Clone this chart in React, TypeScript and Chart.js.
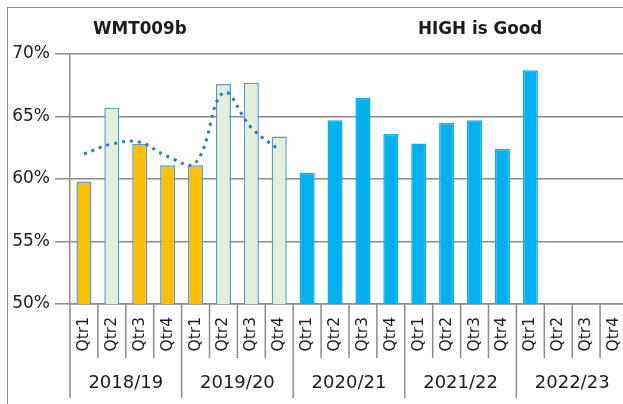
import React, { useEffect, useRef } from "react";
import { Chart, registerables } from "chart.js";

Chart.register(...registerables);

// ---- data ----
const quarterLabels = [
  "Qtr1", "Qtr2", "Qtr3", "Qtr4",
  "Qtr1", "Qtr2", "Qtr3", "Qtr4",
  "Qtr1", "Qtr2", "Qtr3", "Qtr4",
  "Qtr1", "Qtr2", "Qtr3", "Qtr4",
  "Qtr1", "Qtr2", "Qtr3", "Qtr4",
];
const yearLabels = ["2018/19", "2019/20", "2020/21", "2021/22", "2022/23"];
const barValues = [
  59.8, 65.7, 62.8, 61.1,
  61.1, 67.6, 67.7, 63.4,
  60.5, 64.7, 66.5, 63.6,
  62.85, 64.5, 64.7, 62.4,
  68.7, null, null, null,
];
// which series each bar belongs to: A = orange, B = pale green, C = blue
const barSeries = [
  "A", "B", "A", "A",
  "A", "B", "B", "B",
  "C", "C", "C", "C",
  "C", "C", "C", "C",
  "C", "C", "C", "C",
];
const trendValues = [
  62.0, 62.8, 62.95, 61.8,
  61.3, 66.9, 64.1, 62.3,
  null, null, null, null,
  null, null, null, null,
  null, null, null, null,
];
const yTickValues = [50, 55, 60, 65, 70];
const titleLeft = "WMT009b";
const titleRight = "HIGH is Good";

// ---- styles ----
const seriesFill: Record<string, string> = { A: "#FFC000", B: "#E2EFDA", C: "#00B0F0" };
const seriesBorder: Record<string, string> = { A: "#5B9BD5", B: "#5B9BD5", C: "#00B0F0" };
const gridColor = "#8c8c8c";
const textColor = "#1c1c1c";
const FONT = '"DejaVu Sans", Verdana, sans-serif';

const decorPlugin = {
  id: "decor",
  afterDraw(chart: any) {
    const { ctx, chartArea } = chart;
    const x = chart.scales.x;
    const step = x.getPixelForValue(1) - x.getPixelForValue(0);
    const start = x.getPixelForValue(0) - step / 2;
    ctx.save();
    ctx.strokeStyle = gridColor;
    ctx.lineWidth = 1.5;
    for (let i = 0; i <= quarterLabels.length; i++) {
      const px = start + i * step;
      const len = i % 4 === 0 ? 94 : 54;
      ctx.beginPath();
      ctx.moveTo(px, chartArea.bottom);
      ctx.lineTo(px, chartArea.bottom + len);
      ctx.stroke();
    }
    ctx.fillStyle = textColor;
    ctx.font = `bold 16.8px ${FONT}`;
    ctx.textBaseline = "alphabetic";
    ctx.textAlign = "left";
    ctx.fillText(titleLeft, 85, 26);
    ctx.fillText(titleRight, 410, 26);
    ctx.restore();
  },
};

export default function App() {
  const ref = useRef<HTMLCanvasElement | null>(null);

  useEffect(() => {
    if (!ref.current) return;
    const chart = new Chart(ref.current, {
      type: "bar",
      data: {
        labels: quarterLabels,
        datasets: [
          {
            type: "line",
            data: trendValues,
            borderColor: "#2E78C0",
            borderWidth: 3,
            borderDash: [3, 5],
            pointRadius: 0,
            tension: 0.4,
            fill: false,
            order: 0,
            xAxisID: "x",
          } as any,
          {
            type: "bar",
            data: barValues,
            backgroundColor: barSeries.map((s) => seriesFill[s]),
            borderColor: barSeries.map((s) => seriesBorder[s]),
            borderWidth: 1.5,
            barPercentage: 0.54,
            categoryPercentage: 1,
            order: 1,
            xAxisID: "x",
          },
        ],
      },
      options: {
        animation: false,
        responsive: false,
        maintainAspectRatio: false,
        layout: { padding: { top: 46, right: 40, left: 0, bottom: 0 } },
        plugins: { legend: { display: false }, tooltip: { enabled: false }, title: { display: false } },
        scales: {
          y: {
            min: 50,
            max: 70,
            afterBuildTicks: (s: any) => {
              s.ticks = yTickValues.map((v) => ({ value: v }));
            },
            afterFit: (s: any) => {
              s.width = 62;
            },
            ticks: {
              callback: (v: any) => v + "%",
              font: { family: FONT, size: 17 },
              color: textColor,
              padding: 5,
            },
            grid: { color: gridColor, lineWidth: 1.5, tickLength: 15, drawTicks: true },
            border: { display: true, color: gridColor, width: 1.5 },
          },
          x: {
            type: "category",
            position: "bottom",
            offset: true,
            afterFit: (s: any) => {
              s.height = 62;
            },
            grid: { display: false, drawTicks: false, offset: true },
            border: { display: true, color: gridColor, width: 1.5 },
            ticks: {
              autoSkip: false,
              minRotation: 90,
              maxRotation: 90,
              padding: 13,
              font: { family: FONT, size: 15.5 },
              color: textColor,
            },
          },
          x2: {
            type: "category",
            position: "bottom",
            labels: yearLabels,
            offset: true,
            afterFit: (s: any) => {
              s.height = 38;
            },
            grid: { display: false, drawTicks: false },
            border: { display: false },
            ticks: {
              autoSkip: false,
              maxRotation: 0,
              minRotation: 0,
              padding: 7,
              font: { family: FONT, size: 18 },
              color: textColor,
            },
          },
        },
      },
      plugins: [decorPlugin],
    });
    return () => chart.destroy();
  }, []);

  return (
    <div style={{ position: "fixed", left: 0, top: 0, width: 623, height: 404, overflow: "hidden", background: "#fff" }}>
      <div style={{ position: "absolute", left: 7, top: 7, width: 1, height: 397, background: "#8c8c8c" }} />
      <div style={{ position: "absolute", left: 7, top: 7, width: 616, height: 1, background: "#8c8c8c" }} />
      <canvas ref={ref} width={660} height={396} style={{ position: "absolute", left: 8, top: 8, width: 660, height: 396 }} />
    </div>
  );
}
